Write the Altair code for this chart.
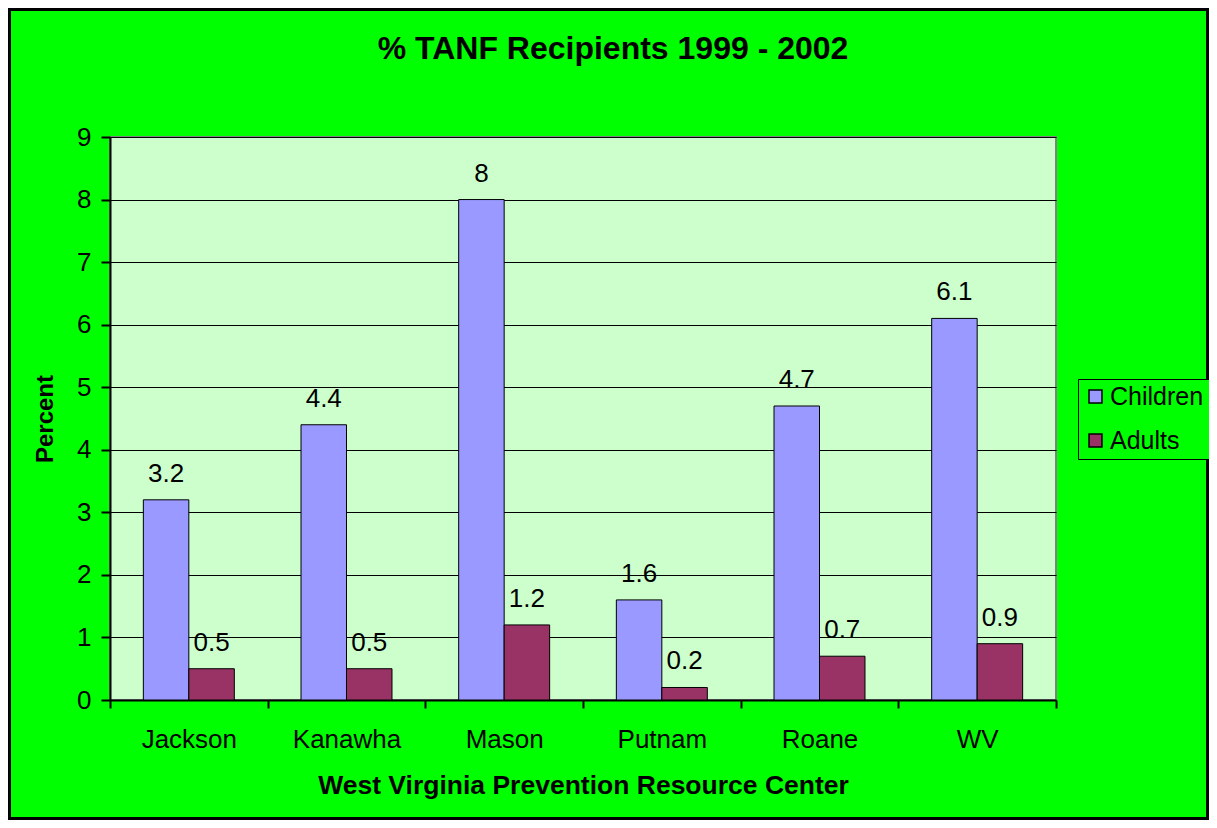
import altair as alt
import pandas as pd

counties = ["Jackson", "Kanawha", "Mason", "Putnam", "Roane", "WV"]
children = [3.2, 4.4, 8.0, 1.6, 4.7, 6.1]
adults = [0.5, 0.5, 1.2, 0.2, 0.7, 0.9]
series = ["Children", "Adults"]
colors = ["#9999FF", "#993366"]
y_ticks = [0, 1, 2, 3, 4, 5, 6, 7, 8, 9]

rows = []
for i, c in enumerate(counties):
    rows.append({"county": c, "series": "Children", "value": children[i]})
    rows.append({"county": c, "series": "Adults", "value": adults[i]})
df = pd.DataFrame(rows)

FONT = "Liberation Sans"
FS = 26
W, H = 946, 563
PAD = {"left": 102, "top": 129, "right": 153, "bottom": 120}

x_enc = alt.X(
    "county:N",
    sort=counties,
    scale=alt.Scale(paddingInner=0, paddingOuter=0),
    axis=alt.Axis(
        title="West Virginia Prevention Resource Center",
        labelAngle=0,
        tickBand="extent",
        tickSize=8,
        tickWidth=2,
        tickColor="black",
        domainColor="black",
        domainWidth=2,
        labelPadding=18,
        labelFontSize=FS,
        labelFont=FONT,
        labelColor="black",
        titleFont=FONT,
        titleFontSize=26.5,
        titleFontWeight="bold",
        titleColor="black",
        titlePadding=20,
        grid=False,
    ),
)
xoff_enc = alt.XOffset(
    "series:N",
    sort=series,
    scale=alt.Scale(paddingOuter=0.733, paddingInner=0),
)
y_enc = alt.Y(
    "value:Q",
    scale=alt.Scale(domain=[0, 9], nice=False),
    axis=alt.Axis(
        title="Percent",
        values=y_ticks,
        format="d",
        tickSize=9,
        tickWidth=2,
        tickColor="black",
        domainColor="black",
        domainWidth=2,
        grid=True,
        gridColor="black",
        gridWidth=1,
        labelPadding=10,
        labelFontSize=FS,
        labelFont=FONT,
        labelColor="black",
        titleFont=FONT,
        titleFontSize=FS - 2,
        titleFontWeight="bold",
        titleColor="black",
        titleX=-65,
        titleY=H / 2,
        titleAngle=-90,
        titleAlign="center",
        titleBaseline="middle",
    ),
)
color_enc = alt.Color(
    "series:N",
    sort=series,
    scale=alt.Scale(domain=series, range=colors),
    legend=alt.Legend(
        title=None,
        orient="none",
        legendX=968,
        legendY=242,
        strokeColor="black",
        fillColor="#00FF00",
        padding=5,
        symbolType="square",
        symbolSize=169,
        symbolStrokeColor="black",
        symbolStrokeWidth=1.5,
        symbolOpacity=1,
        labelFont=FONT,
        labelFontSize=25,
        labelColor="black",
        labelOffset=2,
        rowPadding=18,
    ),
)

bars = alt.Chart(df).mark_bar(stroke="black", strokeWidth=1, opacity=1).encode(
    x=x_enc, xOffset=xoff_enc, y=y_enc, color=color_enc
)

labels = alt.Chart(df).mark_text(
    font=FONT, fontSize=FS, color="black", baseline="alphabetic", dy=-18
).encode(
    x=alt.X("county:N", sort=counties),
    xOffset=alt.XOffset("series:N", sort=series),
    y=alt.Y("value:Q"),
    text=alt.Text("value:Q", format=""),
)

border = alt.Chart(pd.DataFrame({"a": [0]})).mark_rect(
    fill=None, stroke="black", strokeWidth=3
).encode(
    x=alt.value(-PAD["left"] + 1.5),
    x2=alt.value(W + PAD["right"] - 1.5),
    y=alt.value(-PAD["top"] + 1.5),
    y2=alt.value(H + PAD["bottom"] - 1.5),
)

chart = (
    alt.layer(bars, labels, border)
    .properties(
        width=W,
        height=H,
        autosize=alt.AutoSizeParams(type="none"),
        padding=PAD,
        background="#00FF00",
        title=alt.TitleParams(
            "% TANF Recipients 1999 - 2002",
            font=FONT,
            fontSize=32,
            fontWeight="bold",
            color="black",
            anchor="middle",
            dx=30,
            offset=-58,
        ),
    )
    .configure_view(fill="#CCFFCC", stroke="#808080", strokeWidth=2)
)

chart.save("out.html", embed_options={"renderer": "svg", "actions": False})
